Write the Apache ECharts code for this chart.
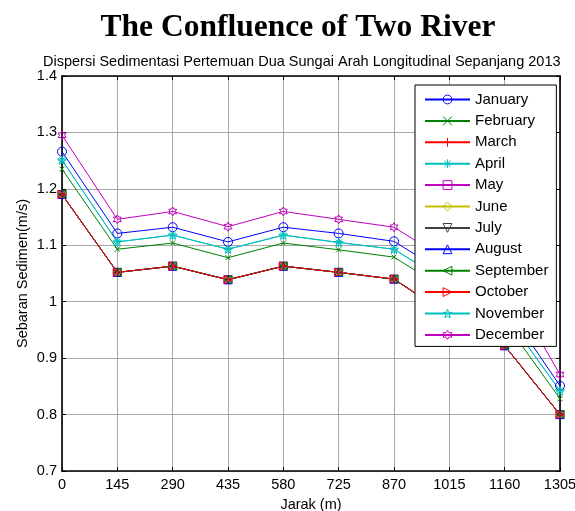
<!DOCTYPE html>
<html>
<head>
<meta charset="utf-8">
<script src="https://cdn.jsdelivr.net/npm/echarts@6/dist/echarts.min.js"></script>
<style>
html,body{margin:0;padding:0;background:#fff;}
#chart{width:575px;height:511px;}
</style>
</head>
<body>
<div id="chart"></div>
<script>
// ---- data ----
const distances = [0, 145, 290, 435, 580, 725, 870, 1015, 1160, 1305];
const yTicks = [0.7, 0.8, 0.9, 1.0, 1.1, 1.2, 1.3, 1.4];
const monthNames = ['January','February','March','April','May','June','July','August','September','October','November','December'];
const january   = [1.266, 1.121, 1.132, 1.106, 1.132, 1.121, 1.107, 1.046, 0.995, 0.851];
const february  = [1.235, 1.093, 1.104, 1.078, 1.104, 1.092, 1.079, 1.018, 0.965, 0.828];
const march     = [1.190, 1.052, 1.063, 1.039, 1.063, 1.052, 1.040, 0.975, 0.922, 0.800];
const april     = [1.251, 1.106, 1.118, 1.093, 1.118, 1.105, 1.093, 1.032, 0.978, 0.842];
const may       = [1.190, 1.052, 1.063, 1.039, 1.063, 1.052, 1.040, 0.975, 0.922, 0.800];
const june      = [1.190, 1.052, 1.063, 1.039, 1.063, 1.052, 1.040, 0.975, 0.922, 0.800];
const july      = [1.190, 1.052, 1.063, 1.039, 1.063, 1.052, 1.040, 0.975, 0.922, 0.800];
const august    = [1.190, 1.052, 1.063, 1.039, 1.063, 1.052, 1.040, 0.975, 0.922, 0.800];
const september = [1.190, 1.052, 1.063, 1.039, 1.063, 1.052, 1.040, 0.975, 0.922, 0.800];
const october   = [1.190, 1.052, 1.063, 1.039, 1.063, 1.052, 1.040, 0.975, 0.922, 0.800];
const november  = [1.251, 1.106, 1.118, 1.093, 1.118, 1.105, 1.093, 1.032, 0.978, 0.842];
const december  = [1.295, 1.146, 1.160, 1.133, 1.160, 1.146, 1.132, 1.071, 1.040, 0.871];
const monthValues = [january, february, march, april, may, june, july, august, september, october, november, december];

// ---- styles ----
const colors = ['#0000ff','#008000','#ff0000','#00bfbf','#bf00bf','#bfbf00','#404040','#0000ff','#008000','#ff0000','#00bfbf','#bf00bf'];
const P_X = 'path://M0,0L10,10M10,0L0,10';
const P_PLUS = 'path://M5,0L5,10M0,5L10,5';
const P_AST = 'path://M5,0L5,10M0,5L10,5M1.5,1.5L8.5,8.5M8.5,1.5L1.5,8.5';
const P_PENT = 'path://M10,0L12.35,6.76L19.51,6.91L13.8,11.24L15.88,18.09L10,14L4.12,18.09L6.2,11.24L0.49,6.91L7.65,6.76Z';
const P_HEX = 'path://M10,0L12.89,5L18.66,5L15.77,10L18.66,15L12.89,15L10,20L7.11,15L1.34,15L4.23,10L1.34,5L7.11,5Z';
const symbols = ['circle', P_X, P_PLUS, P_AST, 'rect', 'diamond', 'triangle', 'triangle', 'triangle', 'triangle', P_PENT, P_HEX];
const rotates = [0,0,0,0,0,0,180,0,90,-90,0,0];
const sizes = [9,5,8,8,8,9,8,8,8,8,9,9];

const series = monthNames.map((name, i) => ({
  name: name,
  type: 'line',
  data: distances.map((d, j) => [d, monthValues[i][j]]),
  symbol: symbols[i],
  symbolSize: sizes[i],
  symbolRotate: rotates[i],
  symbolKeepAspect: true,
  showAllSymbol: true,
  lineStyle: { color: colors[i], width: 1 },
  itemStyle: { color: 'rgba(255,255,255,0)', borderColor: colors[i], borderWidth: 1 },
  emphasis: { disabled: true },
  z: 2
}));

const font = 'Liberation Sans, Arial, sans-serif';
const fs = 14.5;
const axisCommon = {
  axisLine: { show: true, onZero: false, lineStyle: { color: '#000', width: 1.6 } },
  axisTick: { show: true, inside: true, length: 4, lineStyle: { color: '#000', width: 1 } }
};

const chart = echarts.init(document.getElementById('chart'), null, { renderer: 'canvas' });
chart.setOption({
  animation: false,
  backgroundColor: '#fff',
  title: [
    { text: 'The Confluence of Two River', left: 293, top: 7, textAlign: 'center',
      textStyle: { fontFamily: 'Liberation Serif, Times New Roman, serif', fontWeight: 'bold', fontSize: 31.5, color: '#000' } },
    { text: 'Dispersi Sedimentasi Pertemuan Dua Sungai Arah Longitudinal Sepanjang 2013', left: 38, top: 49,
      textStyle: { fontFamily: font, fontWeight: 'normal', fontSize: fs, color: '#000' } }
  ],
  grid: { left: 62, right: 15, top: 76, bottom: 40, containLabel: false, outerBoundsMode: 'none' },
  legend: {
    orient: 'vertical', left: 415, top: 85,
    itemWidth: 45, itemHeight: 11, itemGap: 6.4,
    padding: [7, 8, 4, 9],
    backgroundColor: '#fff', borderColor: '#000', borderWidth: 1,
    textStyle: { fontFamily: font, fontSize: 15, color: '#000' },
    itemStyle: { borderWidth: 1 },
    data: monthNames
  },
  xAxis: [
    Object.assign({
      type: 'value', position: 'bottom', min: distances[0], max: distances[distances.length - 1], interval: 145,
      axisLabel: { fontFamily: font, fontSize: fs, color: '#000', margin: 6, formatter: v => String(v) },
      splitLine: { show: true, lineStyle: { color: '#a8a8a8', width: 1 } },
      name: 'Jarak (m)', nameLocation: 'middle', nameGap: 26, nameMoveOverlap: false,
      nameTextStyle: { fontFamily: font, fontSize: fs, color: '#000' }
    }, axisCommon),
    Object.assign({
      type: 'value', position: 'top', min: distances[0], max: distances[distances.length - 1], interval: 145,
      axisLabel: { show: false }, splitLine: { show: false }
    }, axisCommon)
  ],
  yAxis: [
    Object.assign({
      type: 'value', position: 'left', min: yTicks[0], max: yTicks[yTicks.length - 1], interval: 0.1,
      axisLabel: { fontFamily: font, fontSize: fs, color: '#000', margin: 5,
        formatter: v => String(+v.toFixed(1)) },
      splitLine: { show: true, lineStyle: { color: '#a8a8a8', width: 1 } },
      name: 'Sebaran Sedimen(m/s)', nameLocation: 'middle', nameGap: 32, nameRotate: 90, nameMoveOverlap: false,
      nameTextStyle: { fontFamily: font, fontSize: fs, color: '#000' }
    }, axisCommon),
    Object.assign({
      type: 'value', position: 'right', min: yTicks[0], max: yTicks[yTicks.length - 1], interval: 0.1,
      axisLabel: { show: false }, splitLine: { show: false }
    }, axisCommon)
  ],
  series: series
});
</script>
</body>
</html>
